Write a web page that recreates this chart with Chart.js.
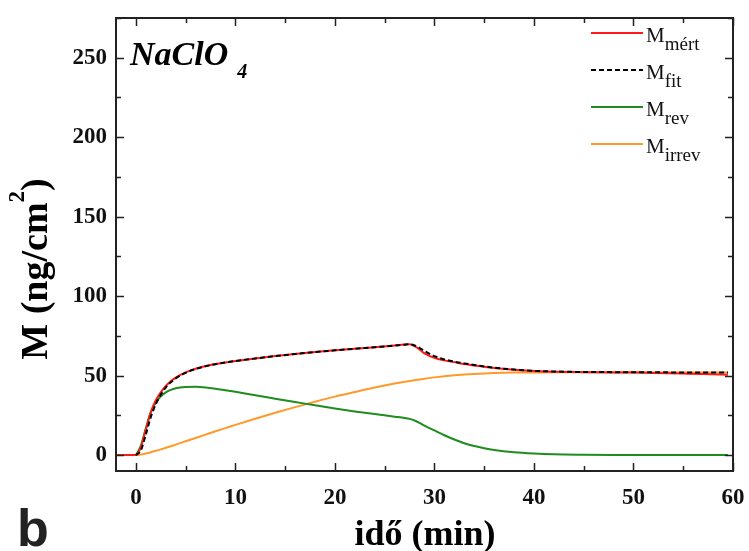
<!DOCTYPE html>
<html>
<head>
<meta charset="utf-8">
<script src="https://cdn.jsdelivr.net/npm/chart.js@4"></script>
<style>
  html, body { margin: 0; padding: 0; background: #fff; }
</style>
</head>
<body>
<canvas id="massChart" width="749" height="551"></canvas>
<script>
// time (min) shared by all series; null where a curve is not defined
const time = [-2, -1, 0, 0.5, 1, 1.5, 2, 2.5, 3, 3.5, 4, 5, 6, 7, 8, 9, 10, 12, 14, 16, 18, 20, 22, 24, 26,
  27, 27.5, 28, 28.5, 29, 30, 31, 32, 33, 34, 35, 36, 38, 40, 42, 45, 48, 50, 52, 55, 57, 59.5];

const mMert = [0, 0, 0, 5, 16, 27, 34.5, 39.5, 43.5, 46.5, 48.8, 52, 54.3, 56, 57.3, 58.3, 59.2,
  60.8, 62.3, 63.6, 64.8, 65.9, 66.9, 67.9, 69, 69.6, 69.8, 68.5, 66.5, 64,
  61.2, 59.6, 58.5, 57.3, 56.4, 55.6, 54.8, 53.7, 52.9, 52.5, 52.2, 52, 51.9, 51.7, 51.3, 51, 50.5];

const mFit = [null, null, 0, 3, 13, 24, 32, 38, 42.5, 45.8, 48.3, 51.8, 54.2, 55.9, 57.2, 58.3, 59.2,
  60.8, 62.3, 63.6, 64.8, 65.9, 66.9, 67.9, 68.9, 69.5, 69.7, 69, 67.5, 65.5,
  62.3, 60.2, 58.8, 57.7, 56.7, 55.8, 55, 53.8, 53, 52.6, 52.3, 52.2, 52.1, 52.1, 52, 52, 52];

const mRev = [null, null, 0, 6, 17, 27, 33, 37, 39.5, 41, 42, 42.8, 43, 42.6, 41.8, 40.8, 39.8,
  37.6, 35.5, 33.4, 31.3, 29.3, 27.5, 25.8, 24.2, 23.4, 22.8, 21.8, 20.3, 18.5,
  15.5, 12.5, 9.8, 7.5, 5.7, 4.3, 3.2, 1.8, 1, 0.5, 0.2, 0.05, 0, 0, 0, 0, 0];

const mIrrev = [null, null, 0, 0.3, 1, 1.8, 2.7, 3.6, 4.6, 5.6, 6.6, 8.7, 10.8, 12.9, 15, 17, 19,
  22.9, 26.6, 30.2, 33.6, 36.8, 39.7, 42.5, 45, 46.1, 46.6, 47.1, 47.6, 48.1,
  48.9, 49.6, 50.2, 50.7, 51.1, 51.4, 51.6, 51.9, 52, 52.1, 52.1, 52.1, 52.1, 52, 52, 52, 52];

const seriesSubs = ['mért', 'fit', 'rev', 'irrev'];
const xTicks = [0, 10, 20, 30, 40, 50, 60];
const yTicks = [0, 50, 100, 150, 200, 250];

const SERIF = '"Liberation Serif", "Times New Roman", serif';

function points(arr) {
  return time.map((t, i) => ({ x: t, y: arr[i] }));
}

function line(label, arr, color, extra) {
  return Object.assign({
    label: label,
    data: points(arr),
    borderColor: color,
    backgroundColor: color,
    borderWidth: 2,
    pointRadius: 0,
    fill: false,
    cubicInterpolationMode: 'monotone'
  }, extra || {});
}

// frame, inward ticks, axis titles, in-plot legend and labels
const decor = {
  id: 'decor',
  afterDatasetsDraw(chart) {
    const { ctx, chartArea: a, scales: { x, y } } = chart;
    ctx.save();
    ctx.strokeStyle = '#222';
    ctx.lineWidth = 2;
    ctx.strokeRect(a.left, a.top, a.right - a.left, a.bottom - a.top);

    ctx.lineWidth = 1.5;
    ctx.beginPath();
    for (let v = 0; v <= 60; v += 5) {
      const px = Math.round(x.getPixelForValue(v)) + 0.5;
      const len = v % 10 === 0 ? 8 : 5;
      ctx.moveTo(px, a.bottom); ctx.lineTo(px, a.bottom - len);
      ctx.moveTo(px, a.top); ctx.lineTo(px, a.top + len);
    }
    for (let v = 0; v <= 275; v += 25) {
      const py = Math.round(y.getPixelForValue(v)) + 0.5;
      const len = v % 50 === 0 ? 8 : 5;
      ctx.moveTo(a.left, py); ctx.lineTo(a.left + len, py);
      ctx.moveTo(a.right, py); ctx.lineTo(a.right - len, py);
    }
    ctx.stroke();

    // legend
    const rows = [33, 70, 107, 144];
    chart.data.datasets.forEach((ds, i) => {
      const ly = rows[i];
      ctx.strokeStyle = ds.borderColor;
      ctx.lineWidth = 2;
      ctx.setLineDash(ds.borderDash || []);
      ctx.beginPath();
      ctx.moveTo(591, ly); ctx.lineTo(643, ly);
      ctx.stroke();
      ctx.setLineDash([]);
      ctx.fillStyle = '#111';
      ctx.textBaseline = 'alphabetic';
      ctx.textAlign = 'left';
      ctx.font = '21px ' + SERIF;
      ctx.fillText(ds.label, 646, ly + 9);
      const w = ctx.measureText(ds.label).width;
      ctx.font = '19px ' + SERIF;
      ctx.fillText(seriesSubs[i], 646 + w, ly + 17);
    });

    // sample name
    ctx.fillStyle = '#000';
    ctx.font = 'italic bold 34px ' + SERIF;
    ctx.fillText('NaClO', 130, 65);
    const nw = ctx.measureText('NaClO').width;
    ctx.font = 'italic bold 20px ' + SERIF;
    ctx.fillText('4', 130 + nw + 9, 78);

    // x axis title
    ctx.font = 'bold 36px ' + SERIF;
    ctx.textAlign = 'center';
    ctx.fillText('idő (min)', 425, 545);

    // y axis title with superscript
    ctx.save();
    ctx.translate(47, 269);
    ctx.rotate(-Math.PI / 2);
    ctx.textAlign = 'left';
    ctx.font = 'bold 38px ' + SERIF;
    const p1 = 'M (ng/cm', p3 = ')';
    const w1 = ctx.measureText(p1).width;
    const w3 = ctx.measureText(p3).width;
    ctx.font = 'bold 23px ' + SERIF;
    const w2 = ctx.measureText('2').width;
    const total = w1 + w2 + w3;
    let cx = -total / 2;
    ctx.font = 'bold 38px ' + SERIF;
    ctx.fillText(p1, cx, 0);
    cx += w1;
    ctx.font = 'bold 23px ' + SERIF;
    ctx.fillText('2', cx, -23);
    cx += w2;
    ctx.font = 'bold 38px ' + SERIF;
    ctx.fillText(p3, cx, 0);
    ctx.restore();

    // panel letter
    ctx.fillStyle = '#222';
    ctx.textAlign = 'left';
    ctx.font = 'bold 52px "Liberation Sans", Arial, sans-serif';
    ctx.fillText('b', 17, 546);
    ctx.restore();
  }
};

const chart = new Chart(document.getElementById('massChart'), {
  type: 'line',
  data: {
    datasets: [
      line('M', mMert, '#ff1a1a', { order: 1 }),
      line('M', mFit, '#000000', { order: 0, borderDash: [5, 3] }),
      line('M', mRev, '#1e8c1e', { order: 2 }),
      line('M', mIrrev, '#ff9a2a', { order: 3 })
    ]
  },
  options: {
    responsive: false,
    animation: false,
    devicePixelRatio: 1,
    layout: { padding: { top: 18, right: 16, left: 0, bottom: 0 } },
    plugins: { legend: { display: false }, tooltip: { enabled: false } },
    scales: {
      x: {
        type: 'linear',
        min: -2,
        max: 60,
        afterBuildTicks: s => { s.ticks = xTicks.map(v => ({ value: v })); },
        afterFit: s => { s.height = 80; s.paddingLeft = 0; s.paddingRight = 0; },
        grid: { drawOnChartArea: false, drawTicks: false },
        border: { display: false },
        ticks: { padding: 13, color: '#111', font: { family: SERIF, size: 23, weight: 'bold' } }
      },
      y: {
        min: -10,
        max: 275,
        afterBuildTicks: s => { s.ticks = yTicks.map(v => ({ value: v })); },
        afterFit: s => { s.width = 116; s.paddingTop = 0; s.paddingBottom = 0; },
        grid: { drawOnChartArea: false, drawTicks: false },
        border: { display: false },
        ticks: { padding: 9, color: '#111', font: { family: SERIF, size: 23, weight: 'bold' } }
      }
    }
  },
  plugins: [decor]
});
</script>
</body>
</html>
